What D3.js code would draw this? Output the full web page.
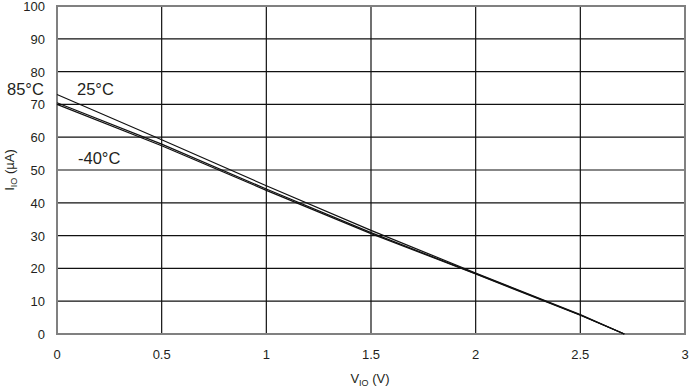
<!doctype html>
<html>
  <head>
    <script src="https://cdnjs.cloudflare.com/ajax/libs/d3/7.8.5/d3.min.js"></script>
    <style>
      body { margin: 0; background: #fff; }
      text { font-family: "Liberation Sans", Arial, sans-serif; fill: #231f20; }
    </style>
  </head>
  <body>
    <svg></svg>
    <script>
      var width = 692,
          height = 387;

      // V_IO (V)
      var vio = [0, 0.5, 1, 1.5, 2, 2.5, 2.71];
      // I_IO (uA) per temperature
      var i25 = [73, 59.2, 45.2, 31.6, 18.6, 5.9, 0];
      var i85 = [70.5, 57.9, 44.2, 30.9, 18.4, 5.8, 0];
      var iM40 = [70, 57.4, 43.8, 30.6, 18.3, 5.7, 0];
      var xTicks = [0, 0.5, 1, 1.5, 2, 2.5, 3];
      var yTicks = [0, 10, 20, 30, 40, 50, 60, 70, 80, 90, 100];

      var series = [i25, i85, iM40];

      var svg = d3.select("svg").attr("width", width).attr("height", height);

      var x = d3.scaleLinear().domain([0, 3]).range([57, 685]);
      var y = d3.scaleLinear().domain([0, 100]).range([334, 6]);

      // grid
      svg.selectAll("line.vgrid").data(xTicks.slice(1, -1))
        .enter().append("line")
          .attr("x1", d => x(d)).attr("x2", d => x(d))
          .attr("y1", y(0)).attr("y2", y(100))
          .style("stroke", "#111").style("stroke-width", 1.2);

      svg.selectAll("line.hgrid").data(yTicks.slice(1, -1))
        .enter().append("line")
          .attr("x1", x(0)).attr("x2", x(3))
          .attr("y1", d => y(d)).attr("y2", d => y(d))
          .style("stroke", "#111").style("stroke-width", 1.2);

      // frame
      svg.append("rect")
        .attr("x", x(0)).attr("y", y(100))
        .attr("width", x(3) - x(0)).attr("height", y(0) - y(100))
        .style("fill", "none").style("stroke", "#808080").style("stroke-width", 2);

      // curves
      var line = d3.line().x((d, i) => x(vio[i])).y(d => y(d));
      svg.selectAll("path.curve").data(series)
        .enter().append("path")
          .attr("d", line)
          .style("fill", "none")
          .style("stroke", "#111")
          .style("stroke-width", 1.2);

      // tick labels
      svg.selectAll("text.xt").data(xTicks)
        .enter().append("text")
          .text(d => d)
          .attr("x", d => x(d))
          .attr("y", 359)
          .attr("text-anchor", "middle")
          .attr("font-size", "13px");

      svg.selectAll("text.yt").data(yTicks)
        .enter().append("text")
          .text(d => d)
          .attr("x", 45)
          .attr("y", d => y(d) + 5)
          .attr("text-anchor", "end")
          .attr("font-size", "13px");

      // axis titles
      var xt = svg.append("text")
        .attr("x", 370).attr("y", 383)
        .attr("text-anchor", "middle")
        .attr("font-size", "13px");
      xt.append("tspan").text("V");
      xt.append("tspan").text("IO").attr("font-size", "9px").attr("dy", 3);
      xt.append("tspan").text(" (V)").attr("dy", -3);

      var yt = svg.append("text")
        .attr("transform", "translate(14,170) rotate(-90)")
        .attr("text-anchor", "middle")
        .attr("font-size", "13px");
      yt.append("tspan").text("I");
      yt.append("tspan").text("IO").attr("font-size", "9px").attr("dy", 3);
      yt.append("tspan").text(" (µA)").attr("dy", -3);

      // temperature labels
      var labels = [
        { t: "85°C", x: 7, y: 95 },
        { t: "25°C", x: 77, y: 95 },
        { t: "-40°C", x: 78, y: 164 }
      ];
      svg.selectAll("text.lab").data(labels)
        .enter().append("text")
          .text(d => d.t)
          .attr("x", d => d.x).attr("y", d => d.y)
          .attr("font-size", "16.5px");
    </script>
  </body>
</html>
